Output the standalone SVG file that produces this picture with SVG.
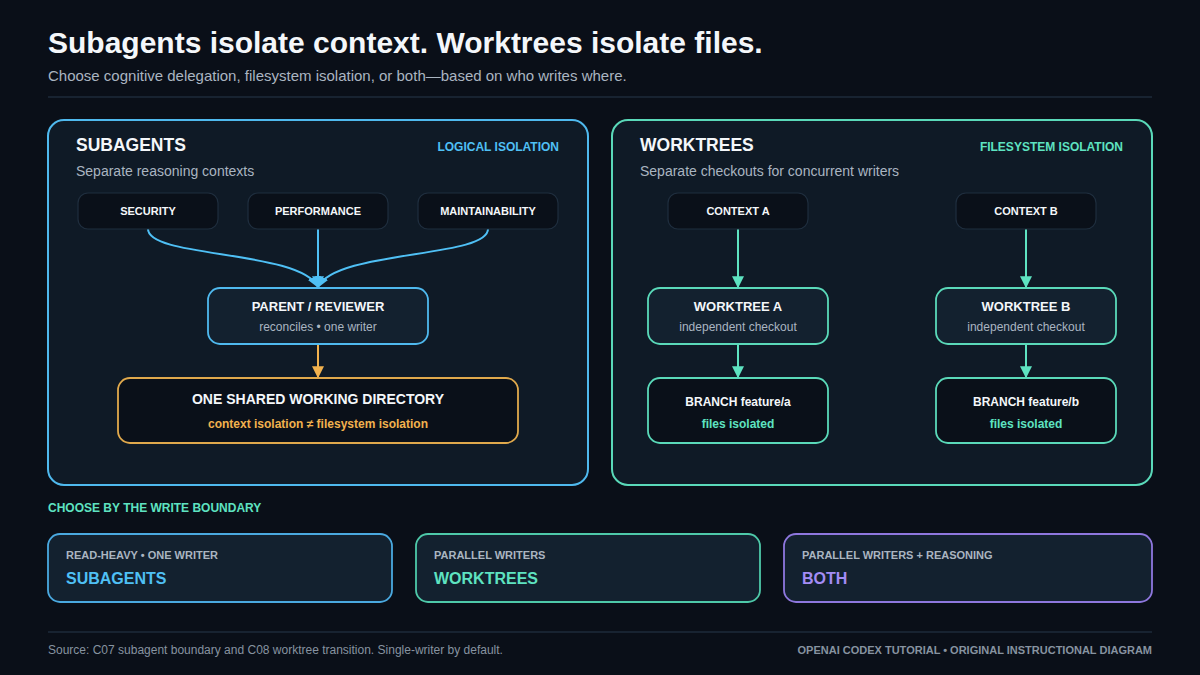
<svg xmlns="http://www.w3.org/2000/svg" width="1200" height="675" viewBox="0 0 1200 675">
<defs>
<style>
text{font-family:"Liberation Sans",Arial,Helvetica,sans-serif}
.h1{font-size:30px;font-weight:700;fill:#f4f7fa}
.sub{font-size:15px;fill:#aab5c1}
.ptitle{font-size:17.5px;font-weight:700;fill:#f4f7fa}
.tag{font-size:12px;font-weight:700}
.pdesc{font-size:14px;fill:#aab5c1}
.small{font-size:11px;font-weight:700;fill:#f4f7fa}
.nt{font-size:13px;font-weight:700;fill:#f4f7fa}
.nd{font-size:12px;fill:#aab5c1}
.dark{fill:#0a1019;stroke:#1f2e3e;stroke-width:1.2}
.mid{fill:#13212f}
.cl{font-size:11px;font-weight:700;fill:#aab5c1}
.cv{font-size:16px;font-weight:700}
.foot{font-size:12px;fill:#8793a0}
</style>
<marker id="ab" viewBox="0 0 10 10" refX="9" refY="5" markerWidth="6" markerHeight="6" markerUnits="strokeWidth" orient="auto"><path d="M0,0L10,5L0,10z" fill="#4fc0f5"/></marker>
<marker id="ao" viewBox="0 0 10 10" refX="9" refY="5" markerWidth="6" markerHeight="6" markerUnits="strokeWidth" orient="auto"><path d="M0,0L10,5L0,10z" fill="#f2b24e"/></marker>
<marker id="at" viewBox="0 0 10 10" refX="9" refY="5" markerWidth="6" markerHeight="6" markerUnits="strokeWidth" orient="auto"><path d="M0,0L10,5L0,10z" fill="#5ee3c1"/></marker>
</defs>
<rect width="1200" height="675" fill="#0a0f18"/>
<g id="header">
<text class="h1" x="48" y="53">Subagents isolate context. Worktrees isolate files.</text>
<text class="sub" x="48" y="81">Choose cognitive delegation, filesystem isolation, or both—based on who writes where.</text>
<line x1="48" y1="97" x2="1152" y2="97" stroke="#1e2b3a" stroke-width="1.5"/>
</g>
<g id="panel-subagents">
<rect x="48" y="120" width="540" height="365" rx="16" fill="#0f1a26" stroke="#4fb9ee" stroke-width="2"/>
<text class="ptitle" x="76" y="151">SUBAGENTS</text>
<text class="tag" x="559" y="151" text-anchor="end" fill="#4fc0f5">LOGICAL ISOLATION</text>
<text class="pdesc" x="76" y="176">Separate reasoning contexts</text>
</g>
<g id="panel-worktrees">
<rect x="612" y="120" width="540" height="365" rx="16" fill="#0f1a26" stroke="#5ad9b9" stroke-width="2"/>
<text class="ptitle" x="640" y="151">WORKTREES</text>
<text class="tag" x="1123" y="151" text-anchor="end" fill="#5ee3c1">FILESYSTEM ISOLATION</text>
<text class="pdesc" x="640" y="176">Separate checkouts for concurrent writers</text>
</g>
<g id="connectors" fill="none" stroke-width="2">
<path d="M148,229 C148,258 300,250 318,287" stroke="#4fc0f5" marker-end="url(#ab)"/>
<path d="M318,229 L318,287" stroke="#4fc0f5" marker-end="url(#ab)"/>
<path d="M488,229 C488,258 336,250 318,287" stroke="#4fc0f5" marker-end="url(#ab)"/>
<path d="M318,344 L318,377" stroke="#f2b24e" marker-end="url(#ao)"/>
<path d="M738,229 L738,287" stroke="#5ee3c1" marker-end="url(#at)"/>
<path d="M738,344 L738,377" stroke="#5ee3c1" marker-end="url(#at)"/>
<path d="M1026,229 L1026,287" stroke="#5ee3c1" marker-end="url(#at)"/>
<path d="M1026,344 L1026,377" stroke="#5ee3c1" marker-end="url(#at)"/>
</g>
<g id="security"><rect class="dark" x="78" y="193" width="140" height="36" rx="10"/><text class="small" x="148" y="215" text-anchor="middle">SECURITY</text></g>
<g id="performance"><rect class="dark" x="248" y="193" width="140" height="36" rx="10"/><text class="small" x="318" y="215" text-anchor="middle">PERFORMANCE</text></g>
<g id="maintainability"><rect class="dark" x="418" y="193" width="140" height="36" rx="10"/><text class="small" x="488" y="215" text-anchor="middle">MAINTAINABILITY</text></g>
<g id="parent"><rect class="mid" x="208" y="288" width="220" height="56" rx="12" stroke="#4fb9ee" stroke-width="1.8"/><text class="nt" x="318" y="311" text-anchor="middle">PARENT / REVIEWER</text><text class="nd" x="318" y="331" text-anchor="middle">reconciles • one writer</text></g>
<g id="shared-dir"><rect x="118" y="378" width="400" height="65" rx="12" fill="#0a1019" stroke="#e0a94c" stroke-width="1.8"/><text x="318" y="404" text-anchor="middle" font-size="14" font-weight="700" fill="#f4f7fa">ONE SHARED WORKING DIRECTORY</text><text x="318" y="428" text-anchor="middle" font-size="12" font-weight="700" fill="#f2b24e">context isolation ≠ filesystem isolation</text></g>
<g id="context-a"><rect class="dark" x="668" y="193" width="140" height="36" rx="10"/><text class="small" x="738" y="215" text-anchor="middle">CONTEXT A</text></g>
<g id="context-b"><rect class="dark" x="956" y="193" width="140" height="36" rx="10"/><text class="small" x="1026" y="215" text-anchor="middle">CONTEXT B</text></g>
<g id="worktree-a"><rect class="mid" x="648" y="288" width="180" height="56" rx="12" stroke="#5ad9b9" stroke-width="1.8"/><text class="nt" x="738" y="311" text-anchor="middle">WORKTREE A</text><text class="nd" x="738" y="331" text-anchor="middle">independent checkout</text></g>
<g id="worktree-b"><rect class="mid" x="936" y="288" width="180" height="56" rx="12" stroke="#5ad9b9" stroke-width="1.8"/><text class="nt" x="1026" y="311" text-anchor="middle">WORKTREE B</text><text class="nd" x="1026" y="331" text-anchor="middle">independent checkout</text></g>
<g id="branch-a"><rect x="648" y="378" width="180" height="65" rx="12" fill="#0a1019" stroke="#5ad9b9" stroke-width="1.8"/><text x="738" y="406" text-anchor="middle" font-size="12" font-weight="700" fill="#f4f7fa">BRANCH feature/a</text><text x="738" y="428" text-anchor="middle" font-size="12" font-weight="700" fill="#5ee3c1">files isolated</text></g>
<g id="branch-b"><rect x="936" y="378" width="180" height="65" rx="12" fill="#0a1019" stroke="#5ad9b9" stroke-width="1.8"/><text x="1026" y="406" text-anchor="middle" font-size="12" font-weight="700" fill="#f4f7fa">BRANCH feature/b</text><text x="1026" y="428" text-anchor="middle" font-size="12" font-weight="700" fill="#5ee3c1">files isolated</text></g>
<g id="choose-label"><text x="48" y="512" font-size="12" font-weight="700" fill="#5ee3c1">CHOOSE BY THE WRITE BOUNDARY</text></g>
<g id="card-subagents"><rect class="mid" x="48" y="534" width="344" height="68" rx="12" stroke="#4aa9e0" stroke-width="1.8"/><text class="cl" x="66" y="559">READ-HEAVY • ONE WRITER</text><text class="cv" x="66" y="584" fill="#4fc0f5">SUBAGENTS</text></g>
<g id="card-worktrees"><rect class="mid" x="416" y="534" width="344" height="68" rx="12" stroke="#4ec9a9" stroke-width="1.8"/><text class="cl" x="434" y="559">PARALLEL WRITERS</text><text class="cv" x="434" y="584" fill="#5ee3c1">WORKTREES</text></g>
<g id="card-both"><rect class="mid" x="784" y="534" width="368" height="68" rx="12" stroke="#8e77de" stroke-width="1.8"/><text class="cl" x="802" y="559">PARALLEL WRITERS + REASONING</text><text class="cv" x="802" y="584" fill="#a38cf5">BOTH</text></g>
<g id="footer">
<line x1="48" y1="632" x2="1152" y2="632" stroke="#1e2b3a" stroke-width="1.5"/>
<text class="foot" x="48" y="654">Source: C07 subagent boundary and C08 worktree transition. Single-writer by default.</text>
<text x="1152" y="654" text-anchor="end" font-size="11" font-weight="700" fill="#8793a0">OPENAI CODEX TUTORIAL • ORIGINAL INSTRUCTIONAL DIAGRAM</text>
</g>
</svg>
